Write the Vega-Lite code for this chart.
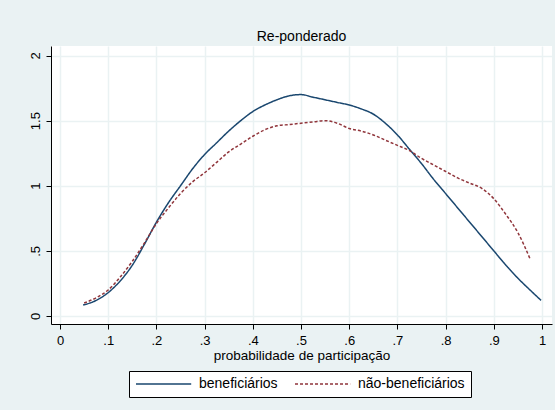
{
  "$schema": "https://vega.github.io/schema/vega-lite/v6.json",
  "width": 501,
  "height": 278,
  "autosize": {"type": "none"},
  "padding": {"left": 51, "top": 46, "right": 3, "bottom": 86},
  "background": "#eaf2f3",
  "title": {"text": "Re-ponderado", "fontSize": 14, "fontWeight": "normal", "font": "Liberation Sans", "color": "#000000", "anchor": "middle", "offset": 2},
  "config": {
    "view": {"fill": "white", "stroke": null},
    "font": "Liberation Sans",
    "axis": {"labelFont": "Liberation Sans", "titleFont": "Liberation Sans", "labelColor": "#000", "titleColor": "#000", "domainColor": "#000", "tickColor": "#000", "gridColor": "#eaf2f3", "gridWidth": 1.5, "labelFontSize": 13, "titleFontSize": 13.5, "titleFontWeight": "normal", "tickSize": 5}
  },
  "data": {"values": [
    {"p": 0.048, "d": 0.084, "g": "beneficiários"},
    {"p": 0.075, "d": 0.12, "g": "beneficiários"},
    {"p": 0.1, "d": 0.18, "g": "beneficiários"},
    {"p": 0.125, "d": 0.27, "g": "beneficiários"},
    {"p": 0.15, "d": 0.39, "g": "beneficiários"},
    {"p": 0.175, "d": 0.55, "g": "beneficiários"},
    {"p": 0.2, "d": 0.72, "g": "beneficiários"},
    {"p": 0.225, "d": 0.87, "g": "beneficiários"},
    {"p": 0.25, "d": 1.0, "g": "beneficiários"},
    {"p": 0.275, "d": 1.13, "g": "beneficiários"},
    {"p": 0.3, "d": 1.24, "g": "beneficiários"},
    {"p": 0.325, "d": 1.33, "g": "beneficiários"},
    {"p": 0.35, "d": 1.42, "g": "beneficiários"},
    {"p": 0.375, "d": 1.5, "g": "beneficiários"},
    {"p": 0.4, "d": 1.57, "g": "beneficiários"},
    {"p": 0.425, "d": 1.62, "g": "beneficiários"},
    {"p": 0.45, "d": 1.66, "g": "beneficiários"},
    {"p": 0.475, "d": 1.69, "g": "beneficiários"},
    {"p": 0.5, "d": 1.7, "g": "beneficiários"},
    {"p": 0.525, "d": 1.68, "g": "beneficiários"},
    {"p": 0.55, "d": 1.66, "g": "beneficiários"},
    {"p": 0.575, "d": 1.64, "g": "beneficiários"},
    {"p": 0.6, "d": 1.62, "g": "beneficiários"},
    {"p": 0.625, "d": 1.59, "g": "beneficiários"},
    {"p": 0.65, "d": 1.55, "g": "beneficiários"},
    {"p": 0.675, "d": 1.48, "g": "beneficiários"},
    {"p": 0.7, "d": 1.39, "g": "beneficiários"},
    {"p": 0.725, "d": 1.28, "g": "beneficiários"},
    {"p": 0.75, "d": 1.17, "g": "beneficiários"},
    {"p": 0.775, "d": 1.05, "g": "beneficiários"},
    {"p": 0.8, "d": 0.94, "g": "beneficiários"},
    {"p": 0.825, "d": 0.83, "g": "beneficiários"},
    {"p": 0.85, "d": 0.72, "g": "beneficiários"},
    {"p": 0.875, "d": 0.61, "g": "beneficiários"},
    {"p": 0.9, "d": 0.5, "g": "beneficiários"},
    {"p": 0.925, "d": 0.39, "g": "beneficiários"},
    {"p": 0.95, "d": 0.29, "g": "beneficiários"},
    {"p": 0.975, "d": 0.2, "g": "beneficiários"},
    {"p": 0.998, "d": 0.12, "g": "beneficiários"},
    {"p": 0.05, "d": 0.1, "g": "não-beneficiários"},
    {"p": 0.075, "d": 0.14, "g": "não-beneficiários"},
    {"p": 0.1, "d": 0.2, "g": "não-beneficiários"},
    {"p": 0.125, "d": 0.3, "g": "não-beneficiários"},
    {"p": 0.15, "d": 0.42, "g": "não-beneficiários"},
    {"p": 0.175, "d": 0.56, "g": "não-beneficiários"},
    {"p": 0.2, "d": 0.71, "g": "não-beneficiários"},
    {"p": 0.225, "d": 0.83, "g": "não-beneficiários"},
    {"p": 0.25, "d": 0.94, "g": "não-beneficiários"},
    {"p": 0.275, "d": 1.03, "g": "não-beneficiários"},
    {"p": 0.3, "d": 1.1, "g": "não-beneficiários"},
    {"p": 0.325, "d": 1.18, "g": "não-beneficiários"},
    {"p": 0.35, "d": 1.26, "g": "não-beneficiários"},
    {"p": 0.375, "d": 1.32, "g": "não-beneficiários"},
    {"p": 0.4, "d": 1.38, "g": "não-beneficiários"},
    {"p": 0.425, "d": 1.43, "g": "não-beneficiários"},
    {"p": 0.45, "d": 1.46, "g": "não-beneficiários"},
    {"p": 0.475, "d": 1.47, "g": "não-beneficiários"},
    {"p": 0.5, "d": 1.48, "g": "não-beneficiários"},
    {"p": 0.525, "d": 1.49, "g": "não-beneficiários"},
    {"p": 0.55, "d": 1.5, "g": "não-beneficiários"},
    {"p": 0.575, "d": 1.48, "g": "não-beneficiários"},
    {"p": 0.6, "d": 1.44, "g": "não-beneficiários"},
    {"p": 0.625, "d": 1.42, "g": "não-beneficiários"},
    {"p": 0.65, "d": 1.39, "g": "não-beneficiários"},
    {"p": 0.675, "d": 1.35, "g": "não-beneficiários"},
    {"p": 0.7, "d": 1.31, "g": "não-beneficiários"},
    {"p": 0.725, "d": 1.27, "g": "não-beneficiários"},
    {"p": 0.75, "d": 1.21, "g": "não-beneficiários"},
    {"p": 0.775, "d": 1.16, "g": "não-beneficiários"},
    {"p": 0.8, "d": 1.11, "g": "não-beneficiários"},
    {"p": 0.825, "d": 1.06, "g": "não-beneficiários"},
    {"p": 0.85, "d": 1.02, "g": "não-beneficiários"},
    {"p": 0.875, "d": 0.98, "g": "não-beneficiários"},
    {"p": 0.9, "d": 0.9, "g": "não-beneficiários"},
    {"p": 0.925, "d": 0.78, "g": "não-beneficiários"},
    {"p": 0.95, "d": 0.64, "g": "não-beneficiários"},
    {"p": 0.975, "d": 0.44, "g": "não-beneficiários"}
  ]},
  "mark": {"type": "line", "strokeWidth": 1.5, "interpolate": "monotone"},
  "encoding": {
    "x": {"field": "p", "type": "quantitative",
      "scale": {"domain": [-0.0187, 1.0207], "nice": false, "zero": false},
      "axis": {"title": "probabilidade de participação", "values": [0, 0.1, 0.2, 0.3, 0.4, 0.5, 0.6, 0.7, 0.8, 0.9, 1], "labelPadding": 5, "titlePadding": 1, "labelFlush": false,
        "labelExpr": "datum.value > 0 && datum.value < 1 ? substring(format(datum.value, '.1~f'), 1) : format(datum.value, '~g')"}},
    "y": {"field": "d", "type": "quantitative",
      "scale": {"domain": [-0.0614, 2.073], "nice": false, "zero": false},
      "axis": {"title": null, "values": [0, 0.5, 1, 1.5, 2], "labelAngle": 270, "labelAlign": "center", "labelBaseline": "bottom", "labelPadding": 4,
        "labelExpr": "datum.value > 0 && datum.value < 1 ? substring(format(datum.value, '.1~f'), 1) : format(datum.value, '~g')"}},
    "color": {"field": "g", "type": "nominal",
      "scale": {"domain": ["beneficiários", "não-beneficiários"], "range": ["#1a476f", "#90353b"]},
      "legend": {"title": null, "orient": "none", "legendX": 78, "legendY": 325, "direction": "horizontal",
        "fillColor": "white", "strokeColor": "#000", "padding": 6, "symbolType": "M-1,0H8.2", "symbolSize": 144, "symbolStrokeWidth": 1.5,
        "labelFontSize": 14, "labelFont": "Liberation Sans", "labelColor": "#000", "columnPadding": 14, "labelOffset": 50}},
    "strokeDash": {"field": "g", "type": "nominal",
      "scale": {"domain": ["beneficiários", "não-beneficiários"], "range": [[1, 0], [3, 2]]},
      "legend": null}
  }
}
